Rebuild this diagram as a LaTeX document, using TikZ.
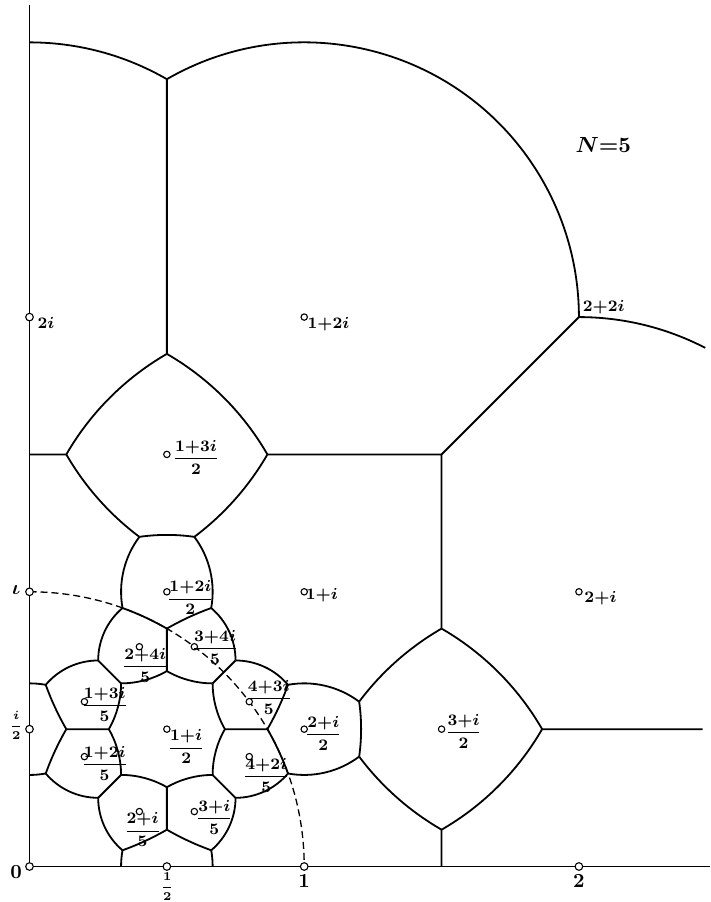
\documentclass[tikz,border=0pt]{standalone}
\usepackage{amsmath}
\usetikzlibrary{calc}

\tikzset{
  seam/.style={line width=0.9pt, line join=round},
  axisline/.style={line width=0.9pt},
  unitcirc/.style={line width=0.65pt, dash pattern=on 3.5pt off 2pt},
  cusp/.style={circle, draw, fill=white, line width=0.55pt, inner sep=0pt, minimum size=3.2pt},
  axcusp/.style={cusp, minimum size=3.8pt},
  lab/.style={inner sep=0pt, font=\fontsize{7.8}{9.4}\selectfont\boldmath},
  axlab/.style={inner sep=0pt, font=\fontsize{10}{12}\selectfont\boldmath},
  halflab/.style={inner sep=0pt, font=\fontsize{6}{7}\selectfont\boldmath},
}

% arc of a bounding circle: centre, radius, from, to
\newcommand{\edgearc}[4]{%
  \draw[seam] let \p1=($(#3)-(#1)$), \p2=($(#4)-(#1)$),
    \n1={atan2(\y1,\x1)}, \n2={atan2(\y2,\x2)},
    \n3={mod(\n2-\n1+540,360)-180} in
    (#3) arc[start angle=\n1, delta angle=\n3, radius=#2];}

\begin{document}
\begin{tikzpicture}[x=137.35pt, y=137.35pt]
\useasboundingbox (-0.1074,-0.1292) rectangle (2.4773,3.1543);

% frame points
\coordinate (o) at (0,0);
\coordinate (ytop) at (0,3.136);
\coordinate (xend) at (2.4773,0);
\coordinate (y15) at (0,1.5);
\coordinate (y3) at (0,3);
\coordinate (x15) at (1.5,0);
\coordinate (s15) at (1.5,1.5);
\coordinate (w22) at (2,2);
\coordinate (arcend) at (2.46,1.8879);
\coordinate (hend) at (2.45,0.5);
\coordinate (vtop) at (0.5,2.8660);

% diamond (1+3i)/2
\coordinate (tl) at (0.1340,1.5);
\coordinate (tt) at (0.5,1.8660);
\coordinate (tr) at (0.8660,1.5);
\coordinate (tbr) at (0.6,1.2);
\coordinate (tbl) at (0.4,1.2);

% diamond (3+i)/2
\coordinate (rt) at (1.5,0.8660);
\coordinate (rr) at (1.8660,0.5);
\coordinate (rb) at (1.5,0.1340);
\coordinate (rbl) at (1.2,0.4);
\coordinate (rtl) at (1.2,0.6);

% ring round (1+i)/2
\coordinate (vA) at (0.3386,0.9409);
\coordinate (vB) at (0.5,0.8660);
\coordinate (vC) at (0.6614,0.9409);
\coordinate (vD) at (0.25,0.75);
\coordinate (vE) at (0.5,0.7113);
\coordinate (vF) at (0.3333,0.6667);
\coordinate (vG) at (0.6667,0.6667);
\coordinate (vH) at (0.75,0.75);
\coordinate (vI) at (0.0591,0.6614);
\coordinate (vJ) at (0,0.6667);
\coordinate (vK) at (0.1340,0.5);
\coordinate (vL) at (0.2887,0.5);
\coordinate (vM) at (0.7113,0.5);
\coordinate (vN) at (0.8660,0.5);
\coordinate (vO) at (0.9409,0.6614);
\coordinate (vP) at (0.0591,0.3386);
\coordinate (vQ) at (0,0.3333);
\coordinate (vR) at (0.3333,0.3333);
\coordinate (vS) at (0.25,0.25);
\coordinate (vT) at (0.5,0.2887);
\coordinate (vU) at (0.6667,0.3333);
\coordinate (vV) at (0.75,0.25);
\coordinate (vW) at (0.9409,0.3386);
\coordinate (vX) at (0.3386,0.0591);
\coordinate (vY) at (0.5,0.1340);
\coordinate (vZ) at (0.6614,0.0591);
\coordinate (vXa) at (0.3333,0);
\coordinate (vZa) at (0.6667,0);

% unit circle
\draw[unitcirc] (0,1) arc[start angle=90, end angle=0, radius=1];

% axes and straight seams
\draw[axisline] (o) -- (ytop);
\draw[axisline] (o) -- (xend);
\draw[seam] (y15) -- (tl) (tr) -- (s15) -- (rt) (s15) -- (w22)
  (vtop) -- (tt) (rb) -- (x15) (rr) -- (hend);
\draw[seam] (vB) -- (vE) (vD) -- (vF) (vH) -- (vG) (vK) -- (vL)
  (vN) -- (vM) (vS) -- (vR) (vV) -- (vU) (vY) -- (vT);

% top arcs
\edgearc{0,2}{1}{y3}{vtop}
\edgearc{1,2}{1}{vtop}{w22}
\edgearc{2,1}{1}{w22}{arcend}
% (1+3i)/2
\edgearc{1,1}{1}{tl}{tt}
\edgearc{0,1}{1}{tt}{tr}
\edgearc{0,2}{1}{tr}{tbr}
\edgearc{0.5,0.5}{0.7071}{tbr}{tbl}
\edgearc{1,2}{1}{tbl}{tl}
% (1+2i)/2
\edgearc{0.6667,1}{0.3333}{tbl}{vA}
\edgearc{0.3333,1}{0.3333}{tbr}{vC}
\edgearc{0,0}{1}{vA}{vB}
\edgearc{1,0}{1}{vB}{vC}
% fifths
\edgearc{0.5,0.75}{0.25}{vD}{vA}
\edgearc{0.5,0.75}{0.25}{vC}{vH}
\edgearc{0.3333,1}{0.3333}{vF}{vE}
\edgearc{0.6667,1}{0.3333}{vE}{vG}
\edgearc{0.25,0.5}{0.25}{vI}{vD}
\edgearc{0,0.3333}{0.3333}{vJ}{vI}
\edgearc{1,1}{1}{vI}{vK}
\edgearc{0,0.6667}{0.3333}{vL}{vF}
\edgearc{0.75,0.5}{0.25}{vH}{vO}
\edgearc{0,1}{1}{vO}{vN}
\edgearc{1,0.6667}{0.3333}{vG}{vM}
\edgearc{0,0.6667}{0.3333}{vQ}{vP}
\edgearc{1,0}{1}{vK}{vP}
\edgearc{0.25,0.5}{0.25}{vP}{vS}
\edgearc{0,0.3333}{0.3333}{vR}{vL}
\edgearc{0.5,0.25}{0.25}{vS}{vX}
\edgearc{0.6667,0}{0.3333}{vX}{vXa}
\edgearc{0,1}{1}{vX}{vY}
\edgearc{0.3333,0}{0.3333}{vT}{vR}
\edgearc{1,1}{1}{vY}{vZ}
\edgearc{0.3333,0}{0.3333}{vZ}{vZa}
\edgearc{0.5,0.25}{0.25}{vZ}{vV}
\edgearc{0.6667,0}{0.3333}{vU}{vT}
\edgearc{0.75,0.5}{0.25}{vV}{vW}
\edgearc{0,0}{1}{vW}{vN}
\edgearc{1,0.3333}{0.3333}{vM}{vU}
% (2+i)/2 and (3+i)/2
\edgearc{1,0.3333}{0.3333}{vO}{rtl}
\edgearc{1,0.6667}{0.3333}{vW}{rbl}
\edgearc{0.5,0.5}{0.7071}{rtl}{rbl}
\edgearc{2,0}{1}{rtl}{rt}
\edgearc{1,0}{1}{rt}{rr}
\edgearc{1,1}{1}{rr}{rb}
\edgearc{2,1}{1}{rb}{rbl}

% points on the axes
\foreach \nm/\x/\y/\dx/\dy/\txt in {
  o/0/0/-6.65/-2.75/{$0$},
  one/1/0/0/-7.1/{$1$},
  two/2/0/0/-7.5/{$2$},
  imag/0/1/-6.65/0.7/{$\iota$}}
{
  \node[axcusp] (p\nm) at (\x,\y) {};
  \node[axlab] (l\nm) at ([shift={(\dx pt,\dy pt)}]p\nm) {\txt};
}
\foreach \nm/\x/\y/\dx/\dy/\txt in {
  half/0.5/0/0.15/-10.25/{$\dfrac{1}{2}$},
  ihalf/0/0.5/-6.65/2/{$\dfrac{i}{2}$}}
{
  \node[axcusp] (p\nm) at (\x,\y) {};
  \node[halflab] (l\nm) at ([shift={(\dx pt,\dy pt)}]p\nm) {\txt};
}
\node[axcusp] (ptwoi) at (0,2) {};
\node[lab] (ltwoi) at ([shift={(8.25pt,-3pt)}]ptwoi) {$2i$};

% points inside
\foreach \nm/\x/\y/\dx/\dy/\txt in {
  onetwoi/1/2/12.1/-3.35/{$1{+}2i$},
  onei/1/1/8.75/-1.85/{$1{+}i$},
  twoone/2/1/10.75/-3.35/{$2{+}i$},
  dt/0.5/1.5/14.55/-1.3/{$\dfrac{1{+}3i}{2}$},
  qt/0.5/1/11.75/-3/{$\dfrac{1{+}2i}{2}$},
  m/0.5/0.5/9.65/-8.8/{$\dfrac{1{+}i}{2}$},
  qr/1/0.5/9.5/-2/{$\dfrac{2{+}i}{2}$},
  dr/1.5/0.5/10.95/-1.25/{$\dfrac{3{+}i}{2}$},
  fa/0.4/0.8/2.9/-9.5/{$\dfrac{2{+}4i}{5}$},
  fb/0.6/0.8/10.35/-0.35/{$\dfrac{3{+}4i}{5}$},
  fc/0.8/0.6/9.7/2.15/{$\dfrac{4{+}3i}{5}$},
  fd/0.8/0.4/8.45/-9.5/{$\dfrac{4{+}2i}{5}$},
  fe/0.6/0.2/9.95/-3/{$\dfrac{3{+}i}{5}$},
  ff/0.4/0.2/1.6/-9.15/{$\dfrac{2{+}i}{5}$},
  fg/0.2/0.4/10.1/-3.25/{$\dfrac{1{+}2i}{5}$},
  fh/0.2/0.6/10.1/-1.2/{$\dfrac{1{+}3i}{5}$}}
{
  \node[cusp] (p\nm) at (\x,\y) {};
  \node[lab] (l\nm) at ([shift={(\dx pt,\dy pt)}]p\nm) {\txt};
}

\node[lab] (l22) at ([shift={(12.4pt,5pt)}]w22) {$2{+}2i$};
\node[font=\fontsize{10.5}{12.5}\selectfont\boldmath] (title) at (2.0888,2.6265) {$N{=}5$};
\end{tikzpicture}
\end{document}
